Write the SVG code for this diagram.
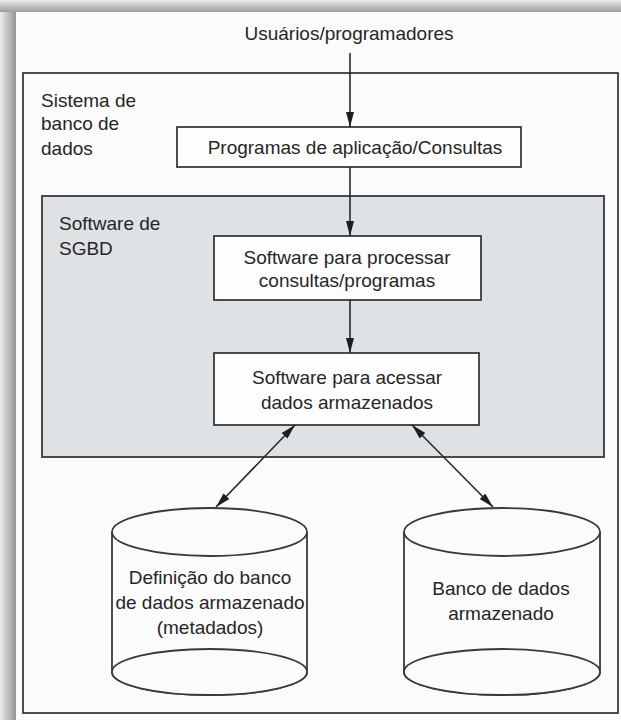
<svg xmlns="http://www.w3.org/2000/svg" width="621" height="720" viewBox="0 0 621 720">
<style>
  text { font-family: "Liberation Sans", Arial, sans-serif; font-size: 19px; fill: #262626; }
  .c { text-anchor: middle; }
  .box { fill: #fdfdfd; stroke: #3a3a3a; stroke-width: 1.8; }
  .conn { stroke: #2a2a2a; stroke-width: 1.6; fill: none; }
  .cyl { fill: #fbfbfb; stroke: #3a3a3a; stroke-width: 1.8; }
</style>
<defs>
  <marker id="ah" viewBox="0 0 15 8" refX="15" refY="4" markerWidth="15" markerHeight="8" markerUnits="userSpaceOnUse" orient="auto-start-reverse">
    <path d="M0,0 L15,4 L0,8 Z" fill="#1e1e1e"/>
  </marker>
  <linearGradient id="shL" x1="0" y1="0" x2="1" y2="0">
    <stop offset="0" stop-color="#ececec"/>
    <stop offset="1" stop-color="#949494"/>
  </linearGradient>
  <linearGradient id="shT" x1="0" y1="0" x2="0" y2="1">
    <stop offset="0" stop-color="#ececec"/>
    <stop offset="1" stop-color="#9c9c9c"/>
  </linearGradient>
</defs>
<g id="frame">
  <rect x="0" y="0" width="621" height="720" fill="#ececec"/>
  <rect x="0" y="0" width="16" height="720" fill="url(#shL)"/>
  <rect x="0" y="0" width="621" height="12" fill="url(#shT)"/>
  <rect x="16" y="12" width="605" height="708" fill="#fbfbfb"/>
</g>
<g id="sistema">
  <rect x="23" y="73" width="595" height="640" fill="#fbfbfb" stroke="#3a3a3a" stroke-width="1.8"/>
  <text x="41" y="107">Sistema de</text>
  <text x="41" y="130">banco de</text>
  <text x="41" y="155">dados</text>
</g>
<g id="usuarios">
  <text class="c" x="349" y="40">Usuários/programadores</text>
</g>
<g id="programas">
  <rect class="box" x="177" y="127" width="344" height="40"/>
  <text class="c" x="355" y="154">Programas de aplicação/Consultas</text>
</g>
<g id="sgbd">
  <rect x="42" y="196" width="562" height="261" fill="#dfe2e5" stroke="#4a4a4a" stroke-width="2"/>
  <text x="59" y="230">Software de</text>
  <text x="59" y="255">SGBD</text>
</g>
<g id="processar">
  <rect class="box" x="214" y="236" width="267" height="64"/>
  <text class="c" x="347" y="264">Software para processar</text>
  <text class="c" x="347" y="287">consultas/programas</text>
</g>
<g id="acessar">
  <rect class="box" x="214" y="353" width="265" height="72"/>
  <text class="c" x="347" y="384">Software para acessar</text>
  <text class="c" x="347" y="409">dados armazenados</text>
</g>
<g id="metadados">
  <path class="cyl" d="M112,532 L112,672 A97.5,23 0 0 0 307,672 L307,532"/>
  <ellipse class="cyl" cx="209.5" cy="532" rx="97.5" ry="24"/>
  <ellipse class="cyl" cx="209.5" cy="672" rx="97.5" ry="23"/>
  <text class="c" x="210" y="584">Definição do banco</text>
  <text class="c" x="210" y="609">de dados armazenado</text>
  <text class="c" x="210" y="634">(metadados)</text>
</g>
<g id="banco">
  <path class="cyl" d="M404,532 L404,672 A98,23 0 0 0 600,672 L600,532"/>
  <ellipse class="cyl" cx="502" cy="532" rx="98" ry="24"/>
  <ellipse class="cyl" cx="502" cy="672" rx="98" ry="23"/>
  <text class="c" x="501" y="595">Banco de dados</text>
  <text class="c" x="501" y="620">armazenado</text>
</g>
<g id="connectors">
  <line class="conn" x1="350" y1="53" x2="350" y2="127" marker-end="url(#ah)"/>
  <line class="conn" x1="350" y1="167" x2="350" y2="236" marker-end="url(#ah)"/>
  <line class="conn" x1="350" y1="300" x2="350" y2="353" marker-end="url(#ah)"/>
  <line class="conn" x1="295" y1="425" x2="216" y2="507" marker-start="url(#ah)" marker-end="url(#ah)"/>
  <line class="conn" x1="412" y1="425" x2="493" y2="507" marker-start="url(#ah)" marker-end="url(#ah)"/>
</g>
</svg>
